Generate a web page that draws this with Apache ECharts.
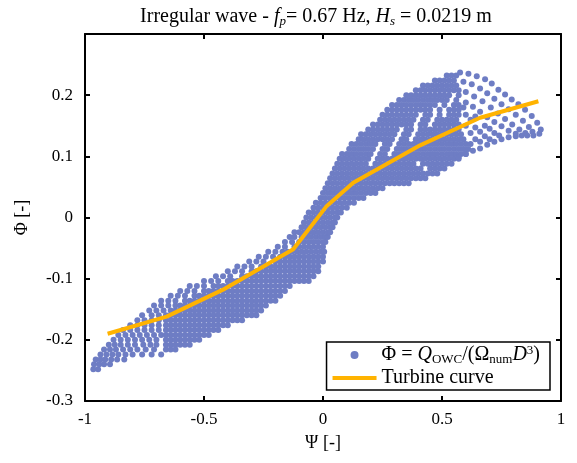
<!DOCTYPE html>
<html>
<head>
<meta charset="utf-8">
<script src="https://cdn.jsdelivr.net/npm/echarts@6/dist/echarts.min.js"></script>
<style>
  html, body { margin: 0; padding: 0; background: #fff; }
  #chart { width: 577px; height: 463px; }
</style>
</head>
<body>
<div id="chart"></div>
<script>
// turbine curve vertices (Psi, Phi)
const turbinePsi = [-0.905, -0.657, -0.42, -0.125, 0.016, 0.127, 0.408, 0.66, 0.905];
const turbinePhi = [-0.19, -0.162, -0.118, -0.052, 0.019, 0.057, 0.118, 0.163, 0.19];

// measured cloud, one row per Phi level: [phi, psi, psi, ...]
const lowerRows = [
  [-0.248, -0.965, -0.945],
  [-0.240, -0.962, -0.94, -0.92, -0.895],
  [-0.232, -0.955, -0.935, -0.915, -0.89, -0.865, -0.835],
  [-0.224, -0.935, -0.91, -0.885, -0.86, -0.83, -0.80, -0.76, -0.72, -0.68],
  [-0.216, -0.92, -0.895, -0.87, -0.84, -0.81, -0.78, -0.745, -0.71, -0.66, -0.64, -0.62],
  [-0.208, -0.90, -0.875, -0.85, -0.82, -0.79, -0.755, -0.725, -0.70, -0.66, -0.64, -0.62, -0.60, -0.58, -0.56],
  [-0.200, -0.88, -0.85, -0.82, -0.79, -0.76, -0.73, -0.70, -0.66, -0.64, -0.62, -0.60, -0.58, -0.56, -0.54, -0.52],
  [-0.192, -0.86, -0.83, -0.80, -0.77, -0.74, -0.71, -0.68, -0.66, -0.64, -0.62, -0.60, -0.58, -0.56, -0.54, -0.52, -0.50, -0.48],
  [-0.184, -0.84, -0.81, -0.78, -0.75, -0.72, -0.69, -0.66, -0.64, -0.62, -0.60, -0.58, -0.56, -0.54, -0.52, -0.50, -0.48, -0.46, -0.44],
  [-0.176, -0.81, -0.78, -0.75, -0.72, -0.69, -0.66, -0.64, -0.62, -0.60, -0.58, -0.56, -0.54, -0.52, -0.50, -0.48, -0.46, -0.44, -0.42, -0.40],
  [-0.168, -0.78, -0.75, -0.72, -0.69, -0.66, -0.64, -0.62, -0.60, -0.58, -0.56, -0.54, -0.52, -0.50, -0.48, -0.46, -0.44, -0.42, -0.40, -0.38, -0.36, -0.34],
  [-0.160, -0.76, -0.72, -0.69, -0.66, -0.64, -0.62, -0.60, -0.58, -0.56, -0.54, -0.52, -0.50, -0.48, -0.46, -0.44, -0.42, -0.40, -0.38, -0.36, -0.34, -0.32, -0.30, -0.28],
  [-0.152, -0.73, -0.70, -0.67, -0.64, -0.62, -0.60, -0.58, -0.56, -0.54, -0.52, -0.50, -0.48, -0.46, -0.44, -0.42, -0.40, -0.38, -0.36, -0.34, -0.32, -0.30, -0.28, -0.26],
  [-0.144, -0.71, -0.68, -0.65, -0.62, -0.60, -0.58, -0.56, -0.54, -0.52, -0.50, -0.48, -0.46, -0.44, -0.42, -0.40, -0.38, -0.36, -0.34, -0.32, -0.30, -0.28, -0.26, -0.24],
  [-0.136, -0.68, -0.65, -0.62, -0.58, -0.56, -0.54, -0.52, -0.50, -0.48, -0.46, -0.44, -0.42, -0.40, -0.38, -0.36, -0.34, -0.32, -0.30, -0.28, -0.26, -0.24, -0.22, -0.20],
  [-0.128, -0.64, -0.61, -0.58, -0.54, -0.52, -0.50, -0.48, -0.46, -0.44, -0.42, -0.40, -0.38, -0.36, -0.34, -0.32, -0.30, -0.28, -0.26, -0.24, -0.22, -0.20, -0.18],
  [-0.120, -0.60, -0.57, -0.54, -0.50, -0.48, -0.46, -0.44, -0.42, -0.40, -0.38, -0.36, -0.34, -0.32, -0.30, -0.28, -0.26, -0.24, -0.22, -0.20, -0.18, -0.16],
  [-0.112, -0.56, -0.53, -0.50, -0.46, -0.44, -0.42, -0.40, -0.38, -0.36, -0.34, -0.32, -0.30, -0.28, -0.26, -0.24, -0.22, -0.20, -0.18, -0.16, -0.14],
  [-0.104, -0.50, -0.47, -0.44, -0.40, -0.38, -0.36, -0.34, -0.32, -0.30, -0.28, -0.26, -0.24, -0.22, -0.20, -0.18, -0.16, -0.14, -0.12, -0.10, -0.08, -0.06],
  [-0.096, -0.45, -0.42, -0.39, -0.34, -0.32, -0.30, -0.28, -0.26, -0.24, -0.22, -0.20, -0.18, -0.16, -0.14, -0.12, -0.10, -0.08, -0.06, -0.04],
  [-0.088, -0.40, -0.37, -0.34, -0.30, -0.28, -0.26, -0.24, -0.22, -0.20, -0.18, -0.16, -0.14, -0.12, -0.10, -0.08, -0.06, -0.04, -0.02],
  [-0.080, -0.36, -0.33, -0.30, -0.26, -0.24, -0.22, -0.20, -0.18, -0.16, -0.14, -0.12, -0.10, -0.08, -0.06, -0.04, -0.02]
];

const coreRows = [
  [-0.072, -0.31, -0.28, -0.25, -0.20, -0.18, -0.16, -0.14, -0.12, -0.10, -0.08, -0.06, -0.04, -0.02, 0.00],
  [-0.064, -0.27, -0.24, -0.21, -0.18, -0.16, -0.14, -0.12, -0.10, -0.08, -0.06, -0.04, -0.02, 0.00],
  [-0.056, -0.23, -0.20, -0.17, -0.15, -0.13, -0.11, -0.09, -0.07, -0.05, -0.03, -0.01, 0.005],
  [-0.048, -0.19, -0.16, -0.12, -0.10, -0.08, -0.06, -0.04, -0.02, 0.00],
  [-0.040, -0.16, -0.13, -0.10, -0.08, -0.06, -0.04, -0.02, 0.00, 0.01],
  [-0.032, -0.14, -0.12, -0.09, -0.07, -0.05, -0.03, -0.01, 0.01, 0.02],
  [-0.024, -0.12, -0.10, -0.08, -0.06, -0.04, -0.02, 0.00, 0.02, 0.03],
  [-0.016, -0.09, -0.07, -0.05, -0.03, -0.01, 0.01, 0.03, 0.04],
  [-0.008, -0.08, -0.06, -0.04, -0.02, 0.00, 0.02, 0.04, 0.05],
  [0.000, -0.07, -0.05, -0.03, -0.01, 0.01, 0.03, 0.05, 0.06],
  [0.008, -0.06, -0.04, -0.02, 0.00, 0.02, 0.04, 0.06, 0.075],
  [0.016, -0.04, -0.02, 0.00, 0.02, 0.04, 0.06, 0.08, 0.10],
  [0.024, -0.03, -0.01, 0.01, 0.03, 0.05, 0.07, 0.09, 0.11, 0.13],
  [0.032, -0.01, 0.01, 0.03, 0.05, 0.07, 0.09, 0.11, 0.13, 0.15, 0.17]
];

const upperRows = [
  [0.040, 0.00, 0.02, 0.04, 0.06, 0.08, 0.10, 0.12, 0.14, 0.16, 0.18, 0.20, 0.22],
  [0.048, 0.01, 0.03, 0.05, 0.07, 0.09, 0.11, 0.13, 0.15, 0.17, 0.19, 0.21, 0.23, 0.25],
  [0.056, 0.02, 0.04, 0.06, 0.08, 0.10, 0.12, 0.14, 0.16, 0.18, 0.20, 0.22, 0.24, 0.26, 0.28, 0.30, 0.32, 0.34, 0.36],
  [0.064, 0.03, 0.05, 0.07, 0.09, 0.11, 0.13, 0.15, 0.17, 0.19, 0.21, 0.23, 0.25, 0.27, 0.29, 0.31, 0.33, 0.35, 0.37, 0.39, 0.41, 0.43],
  [0.072, 0.04, 0.06, 0.08, 0.10, 0.12, 0.14, 0.16, 0.18, 0.20, 0.22, 0.24, 0.26, 0.28, 0.30, 0.32, 0.34, 0.36, 0.38, 0.40, 0.42, 0.44, 0.46, 0.48],
  [0.080, 0.05, 0.07, 0.09, 0.11, 0.13, 0.15, 0.17, 0.19, 0.21, 0.23, 0.25, 0.27, 0.29, 0.31, 0.33, 0.35, 0.37, 0.39, 0.41, 0.45, 0.47, 0.49, 0.51],
  [0.088, 0.06, 0.08, 0.10, 0.12, 0.14, 0.16, 0.18, 0.22, 0.24, 0.26, 0.28, 0.30, 0.32, 0.34, 0.36, 0.38, 0.42, 0.44, 0.46, 0.48, 0.50, 0.52, 0.54],
  [0.096, 0.07, 0.09, 0.11, 0.13, 0.15, 0.17, 0.19, 0.23, 0.25, 0.27, 0.29, 0.31, 0.33, 0.35, 0.37, 0.39, 0.41, 0.43, 0.45, 0.47, 0.49, 0.51, 0.53, 0.55, 0.57],
  [0.104, 0.08, 0.10, 0.12, 0.14, 0.16, 0.18, 0.20, 0.24, 0.26, 0.30, 0.32, 0.34, 0.36, 0.38, 0.40, 0.42, 0.44, 0.46, 0.48, 0.50, 0.52, 0.54, 0.56, 0.58, 0.60],
  [0.112, 0.11, 0.13, 0.15, 0.17, 0.19, 0.21, 0.25, 0.27, 0.31, 0.33, 0.35, 0.37, 0.39, 0.41, 0.43, 0.45, 0.47, 0.49, 0.51, 0.53, 0.55, 0.57, 0.59, 0.61],
  [0.120, 0.12, 0.14, 0.16, 0.18, 0.20, 0.22, 0.26, 0.28, 0.32, 0.34, 0.36, 0.38, 0.40, 0.42, 0.44, 0.46, 0.48, 0.50, 0.52, 0.54, 0.56, 0.58, 0.60],
  [0.128, 0.15, 0.17, 0.19, 0.21, 0.23, 0.25, 0.27, 0.29, 0.33, 0.35, 0.39, 0.41, 0.43, 0.45, 0.47, 0.49, 0.51, 0.53, 0.55, 0.57, 0.59],
  [0.136, 0.16, 0.18, 0.20, 0.22, 0.24, 0.26, 0.28, 0.30, 0.34, 0.36, 0.40, 0.42, 0.44, 0.46, 0.48, 0.50, 0.52, 0.54, 0.56, 0.58],
  [0.144, 0.19, 0.21, 0.23, 0.25, 0.27, 0.29, 0.31, 0.35, 0.37, 0.41, 0.43, 0.45, 0.47, 0.49, 0.51, 0.53, 0.55, 0.57],
  [0.152, 0.21, 0.23, 0.25, 0.27, 0.29, 0.31, 0.33, 0.35, 0.37, 0.41, 0.43, 0.47, 0.49, 0.51, 0.53, 0.55, 0.57],
  [0.160, 0.24, 0.26, 0.28, 0.30, 0.32, 0.34, 0.36, 0.38, 0.42, 0.44, 0.48, 0.50, 0.52, 0.54, 0.56],
  [0.168, 0.25, 0.27, 0.29, 0.31, 0.33, 0.35, 0.37, 0.39, 0.43, 0.45, 0.49, 0.53, 0.55, 0.57],
  [0.176, 0.27, 0.29, 0.31, 0.33, 0.35, 0.37, 0.39, 0.41, 0.43, 0.45, 0.49, 0.53, 0.55, 0.57],
  [0.184, 0.29, 0.31, 0.33, 0.35, 0.37, 0.39, 0.41, 0.43, 0.45, 0.47, 0.51, 0.55, 0.57],
  [0.192, 0.32, 0.34, 0.36, 0.38, 0.40, 0.42, 0.44, 0.46, 0.48, 0.50, 0.52, 0.56],
  [0.200, 0.35, 0.37, 0.39, 0.41, 0.43, 0.45, 0.47, 0.49, 0.51, 0.53, 0.57],
  [0.208, 0.39, 0.41, 0.43, 0.45, 0.47, 0.49, 0.51, 0.53, 0.55, 0.57],
  [0.216, 0.42, 0.44, 0.46, 0.48, 0.50, 0.52, 0.54, 0.56],
  [0.224, 0.47, 0.49, 0.51, 0.53, 0.55],
  [0.232, 0.52, 0.54, 0.56]
];

// sparse orbits on the right end of the upper lobe: [psi, phi]
const arcPoints = [
  [0.576, 0.237], [0.611, 0.235], [0.646, 0.231], [0.681, 0.226], [0.709, 0.219], [0.737, 0.209],
  [0.765, 0.201], [0.793, 0.193], [0.821, 0.185], [0.849, 0.176], [0.877, 0.166], [0.900, 0.155],
  [0.915, 0.144], [0.909, 0.137], [0.884, 0.134], [0.858, 0.134],
  [0.59, 0.222], [0.625, 0.218], [0.66, 0.211], [0.69, 0.203], [0.72, 0.194], [0.75, 0.185],
  [0.78, 0.177], [0.81, 0.168], [0.84, 0.158], [0.865, 0.148], [0.88, 0.14],
  [0.60, 0.205], [0.635, 0.198], [0.67, 0.19], [0.705, 0.18], [0.735, 0.17], [0.765, 0.161],
  [0.795, 0.152], [0.825, 0.144], [0.85, 0.138],
  [0.60, 0.188], [0.63, 0.181], [0.66, 0.173], [0.69, 0.164], [0.72, 0.156], [0.75, 0.149],
  [0.78, 0.142], [0.81, 0.137],
  [0.57, 0.098], [0.60, 0.104], [0.63, 0.109], [0.66, 0.113], [0.69, 0.119], [0.72, 0.124],
  [0.75, 0.128], [0.78, 0.131], [0.81, 0.133], [0.835, 0.134],
  [0.62, 0.12], [0.64, 0.128], [0.66, 0.124], [0.68, 0.133], [0.70, 0.128], [0.72, 0.138],
  [0.74, 0.134], [0.62, 0.138], [0.64, 0.147], [0.66, 0.14], [0.68, 0.15], [0.70, 0.145],
  [0.60, 0.15], [0.62, 0.16], [0.64, 0.165], [0.60, 0.168], [0.59, 0.18]
];

const psiTicks = [-1, -0.5, 0, 0.5, 1];
const phiTicks = [-0.3, -0.2, -0.1, 0, 0.1, 0.2];

const serif = 'Liberation Serif, DejaVu Serif, serif';

const cloud = lowerRows.concat(coreRows, upperRows)
  .flatMap((row) => row.slice(1).map((psi) => [psi, row[0]]))
  .concat(arcPoints);
const turbine = turbinePsi.map((psi, i) => [psi, turbinePhi[i]]);

const chart = echarts.init(document.getElementById('chart'));

const frameAxis = (extra) => Object.assign({
  type: 'value',
  axisLine: { show: true, onZero: false, lineStyle: { color: '#000', width: 2 } },
  axisTick: { show: true, inside: true, length: 5, lineStyle: { color: '#000', width: 2 } },
  splitLine: { show: false },
}, extra);

const scriptRich = {
  t: { fontFamily: serif, fontSize: 20, color: '#000', lineHeight: 22 },
  i: { fontFamily: serif, fontSize: 20, fontStyle: 'italic', color: '#000', lineHeight: 22 },
  s: { fontFamily: serif, fontSize: 13, color: '#000', lineHeight: 8, verticalAlign: 'bottom' },
  si: { fontFamily: serif, fontSize: 13, fontStyle: 'italic', color: '#000', lineHeight: 8, verticalAlign: 'bottom' },
  p: { fontFamily: serif, fontSize: 13, color: '#000', lineHeight: 10, verticalAlign: 'top' },
};

chart.setOption({
  animation: false,
  title: {
    text: '{t|Irregular wave - }{i|f}{si|p}{t|= 0.67 Hz, }{i|H}{si|s}{t| = 0.0219 m}',
    left: 311,
    top: 1,
    textAlign: 'center',
    textStyle: { fontFamily: serif, fontSize: 20, fontWeight: 'normal', color: '#000', rich: scriptRich },
  },
  grid: { left: 85, right: 16, top: 34, bottom: 62 },
  xAxis: [
    frameAxis({
      min: -1, max: 1, interval: 0.5, position: 'bottom',
      name: 'Ψ [-]', nameLocation: 'middle', nameGap: 33,
      nameTextStyle: { fontFamily: serif, fontSize: 18, color: '#000' },
      axisLabel: { color: '#000', fontFamily: serif, fontSize: 17, margin: 10,
        formatter: (v) => (psiTicks.includes(v) ? String(v) : '') },
    }),
    frameAxis({ min: -1, max: 1, interval: 0.5, position: 'top', axisLabel: { show: false } }),
  ],
  yAxis: [
    frameAxis({
      min: -0.3, max: 0.3, interval: 0.1, position: 'left',
      name: 'Φ [-]', nameLocation: 'middle', nameGap: 54, nameRotate: 90,
      nameTextStyle: { fontFamily: serif, fontSize: 18, color: '#000' },
      axisLabel: { color: '#000', fontFamily: serif, fontSize: 17, margin: 12,
        formatter: (v) => (phiTicks.some((t) => Math.abs(t - v) < 1e-9) ? String(v) : '') },
    }),
    frameAxis({ min: -0.3, max: 0.3, interval: 0.1, position: 'right', axisLabel: { show: false } }),
  ],
  legend: {
    orient: 'vertical',
    right: 27,
    bottom: 73,
    align: 'left',
    backgroundColor: '#fff',
    borderColor: '#000',
    borderWidth: 1.5,
    borderRadius: 0,
    padding: [2, 10, 2, 4],
    itemGap: 2,
    itemWidth: 44,
    itemHeight: 8,
    data: [
      { name: 'phi', icon: 'circle' },
      {
        name: 'turbine',
        itemStyle: { color: 'rgba(0,0,0,0)', opacity: 0, borderWidth: 0 },
        lineStyle: { color: '#FFB300', width: 4 },
      },
    ],
    formatter: (name) => (name === 'phi'
      ? '{t|Φ = }{i|Q}{s|OWC}{t|/(Ω}{s|num}{i|D}{p|3}{t|)}'
      : '{t|Turbine curve}'),
    textStyle: { fontFamily: serif, fontSize: 20, color: '#000', rich: scriptRich },
  },
  series: [
    {
      name: 'phi',
      type: 'scatter',
      data: cloud,
      symbolSize: 6,
      itemStyle: { color: '#6E7DC4', opacity: 1 },
      emphasis: { disabled: true },
    },
    {
      name: 'turbine',
      type: 'line',
      data: turbine,
      symbol: 'none',
      lineStyle: { color: '#FFB300', width: 4 },
      itemStyle: { color: '#FFB300' },
    },
  ],
});

window.addEventListener('resize', () => chart.resize());
</script>
</body>
</html>
